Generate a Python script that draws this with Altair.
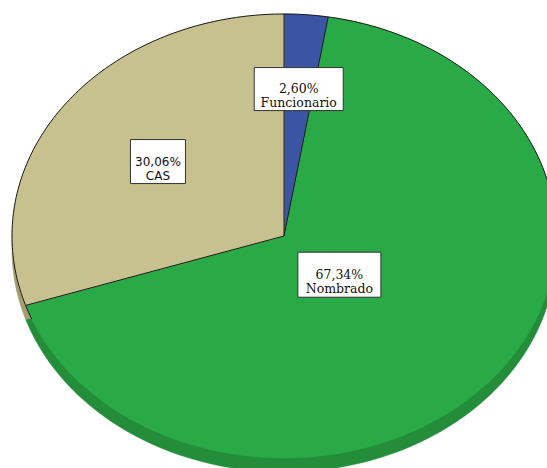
import altair as alt
import pandas as pd

# ---- data ----
categories = ["Funcionario", "Nombrado", "CAS"]
percents = [2.60, 67.34, 30.06]
pct_labels = ["2,60%", "67,34%", "30,06%"]

# ---- styles / layout ----
face_colors = ["#3b54a3", "#2aaa47", "#c7c190"]
side_colors = ["#2d4080", "#238d3a", "#a29c70"]
label_r = {"Funcionario": 0.664, "Nombrado": 0.268, "CAS": 0.572}
box_size = {"Funcionario": (89, 43), "Nombrado": (83, 45), "CAS": (55, 44)}
label_font = {"Funcionario": "DejaVu Serif", "Nombrado": "DejaVu Serif", "CAS": "DejaVu Sans"}
label_size = {"Funcionario": 12.5, "Nombrado": 12.5, "CAS": 12}

W, H = 547, 468
CX, CY = 284, 236
RX, RY = 272, 222
DEPTH = 14
N = 120
OUTLINE_FROM, OUTLINE_TO = -112, 82   # degrees (clockwise from top) where the rim is outlined

df = pd.DataFrame({"category": categories, "pct": percents,
                   "label": pct_labels, "order": list(range(len(categories)))})

xscale = alt.Scale(domain=[-CX / RX, (W - CX) / RX], range=[0, W], nice=False, zero=False)
yscale = alt.Scale(domain=[(CY - H) / RY, CY / RY], range=[H, 0], nice=False, zero=False)
X = lambda f: alt.X(f, scale=xscale, axis=None)
Y = lambda f: alt.Y(f, scale=yscale, axis=None)

cum = alt.Chart(df).transform_window(
    cum="sum(pct)", sort=[alt.SortField("order")], frame=[None, 0]
).transform_calculate(start="datum.cum - datum.pct")

wedge = cum.transform_calculate(
    k=f"sequence(0, {N + 3})"
).transform_flatten(["k"]).transform_calculate(
    t=f"clamp((datum.k - 1) / {N}, 0, 1)"
).transform_calculate(
    center=f"datum.k == 0 || datum.k == {N + 2}"
).transform_calculate(
    ang="2 * PI * (datum.start + datum.pct * datum.t) / 100"
).transform_calculate(
    ux="datum.center ? 0 : sin(datum.ang)"
).transform_calculate(
    uy="datum.center ? 0 : cos(datum.ang)"
)

enc = dict(x=X("ux:Q"), y=Y("uy:Q"), order=alt.Order("k:Q"), detail=alt.Detail("category:N"))

side = wedge.mark_line(yOffset=DEPTH, strokeWidth=0.5, strokeJoin="round").encode(
    fill=alt.Fill("category:N", scale=alt.Scale(domain=categories, range=side_colors), legend=None),
    stroke=alt.Stroke("category:N", scale=alt.Scale(domain=categories, range=side_colors), legend=None),
    **enc,
)

face = wedge.mark_line(strokeWidth=0.5, strokeJoin="round").encode(
    fill=alt.Fill("category:N", scale=alt.Scale(domain=categories, range=face_colors), legend=None),
    stroke=alt.Stroke("category:N", scale=alt.Scale(domain=categories, range=face_colors), legend=None),
    **enc,
)

# radial boundaries between slices
radial = cum.transform_calculate(
    a="2 * PI * datum.start / 100"
).transform_calculate(
    ex="sin(datum.a)", ey="cos(datum.a)", zero="0"
).mark_rule(color="#1a1a1a", strokeWidth=1).encode(
    x=X("zero:Q"), y=Y("zero:Q"), x2="ex:Q", y2="ey:Q"
)

# rim outline on the far side of the tilted pie
rim = alt.Chart(pd.DataFrame({"one": [1]})).transform_calculate(
    k=f"sequence({OUTLINE_FROM}, {OUTLINE_TO + 1})"
).transform_flatten(["k"]).transform_calculate(
    rx="sin(datum.k * PI / 180)", ry="cos(datum.k * PI / 180)"
).mark_line(color="#1a1a1a", strokeWidth=1).encode(
    x=X("rx:Q"), y=Y("ry:Q"), order=alt.Order("k:Q")
)

layers = [side, face, radial, rim]
for cat in categories:
    w, h = box_size[cat]
    lab = cum.transform_filter(
        alt.datum.category == cat
    ).transform_calculate(
        mid="2 * PI * (datum.start + datum.pct / 2) / 100"
    ).transform_calculate(
        lx=f"{label_r[cat]} * sin(datum.mid)"
    ).transform_calculate(
        ly=f"{label_r[cat]} * cos(datum.mid)"
    ).transform_calculate(
        txt="[datum.label, datum.category]"
    )
    pos = dict(x=X("lx:Q"), y=Y("ly:Q"))
    box = lab.mark_rect(width=w, height=h, fill="white", stroke="#333333", strokeWidth=1).encode(**pos)
    txt = lab.mark_text(font=label_font[cat], fontSize=label_size[cat], lineHeight=14,
                        align="center", baseline="middle", color="#111111").encode(
        text=alt.Text("txt:N"), **pos)
    layers += [box, txt]

chart = alt.layer(*layers).resolve_scale(fill="independent", stroke="independent").properties(
    width=W, height=H, padding=0, autosize="none", background="white"
).configure_view(stroke=None)

chart.save("out.html", embed_options={"renderer": "svg", "actions": False})
